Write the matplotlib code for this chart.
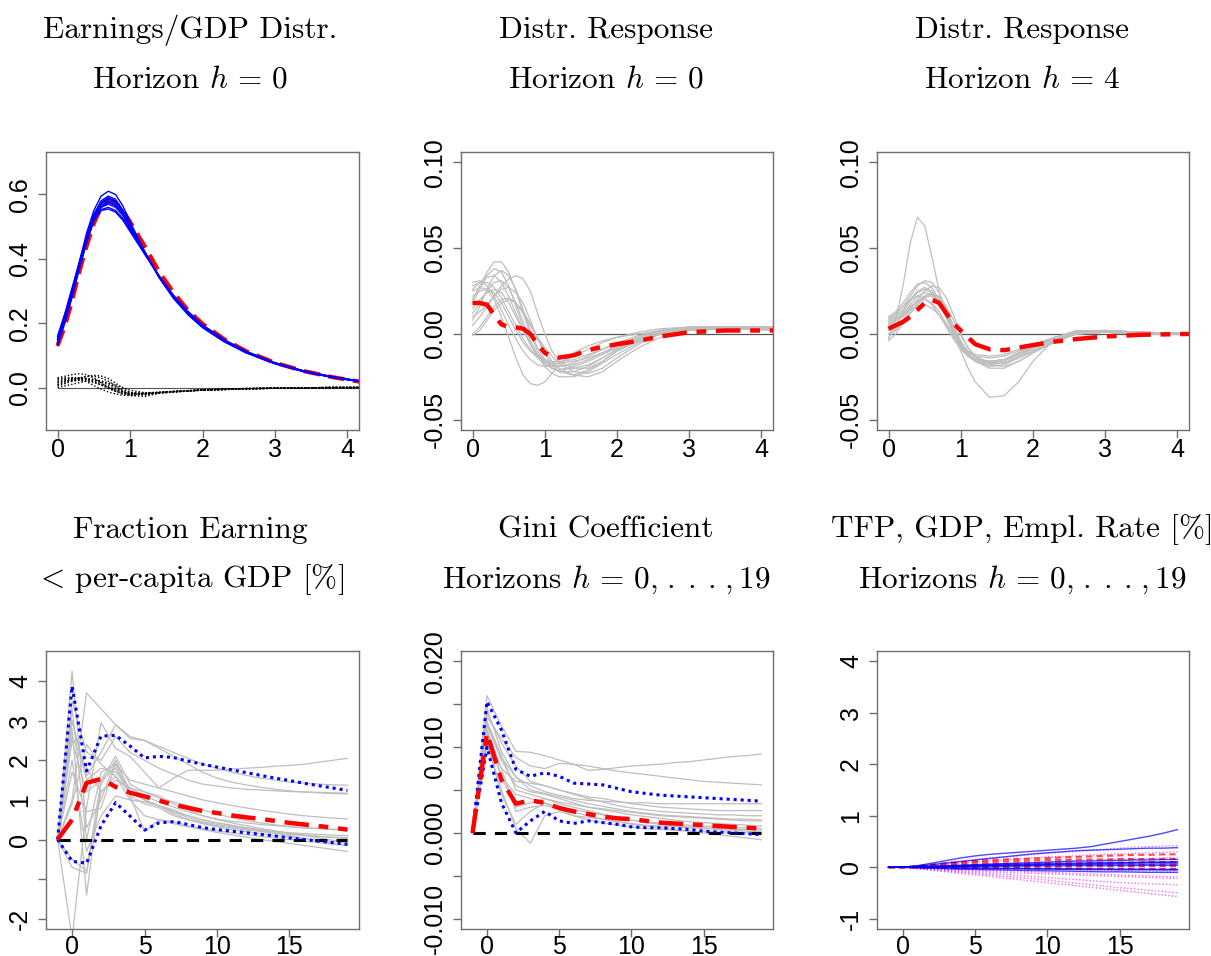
import numpy as np
import matplotlib
matplotlib.use("Agg")
import matplotlib.pyplot as plt

plt.rcParams['font.family'] = 'Liberation Sans'
plt.rcParams['mathtext.fontset'] = 'cm'

# ---- top row: densities on a grid of earnings/GDP ----
xd = [0, 0.1, 0.2, 0.3, 0.4, 0.5, 0.6, 0.7, 0.8, 0.9, 1.0, 1.2, 1.4, 1.6, 1.8, 2.0, 2.3, 2.6, 3.0, 3.4, 3.8, 4.2]

dens = [
    [0.13, 0.20, 0.28, 0.37, 0.45, 0.52, 0.56, 0.575, 0.565, 0.54, 0.50, 0.42, 0.345, 0.282, 0.232, 0.19, 0.146, 0.111, 0.076, 0.051, 0.033, 0.019],
    [0.15, 0.22, 0.30, 0.39, 0.48, 0.55, 0.595, 0.61, 0.60, 0.565, 0.515, 0.425, 0.342, 0.277, 0.226, 0.186, 0.142, 0.108, 0.074, 0.049, 0.031, 0.018],
    [0.14, 0.21, 0.29, 0.375, 0.455, 0.52, 0.55, 0.555, 0.545, 0.52, 0.485, 0.415, 0.348, 0.287, 0.237, 0.195, 0.149, 0.113, 0.077, 0.052, 0.033, 0.019],
    [0.16, 0.23, 0.31, 0.39, 0.47, 0.535, 0.575, 0.59, 0.58, 0.55, 0.505, 0.42, 0.343, 0.279, 0.229, 0.188, 0.144, 0.109, 0.075, 0.05, 0.032, 0.018],
    [0.145, 0.215, 0.295, 0.38, 0.46, 0.53, 0.57, 0.585, 0.575, 0.545, 0.5, 0.42, 0.345, 0.281, 0.231, 0.19, 0.145, 0.11, 0.075, 0.05, 0.032, 0.018],
    [0.135, 0.205, 0.285, 0.37, 0.452, 0.522, 0.56, 0.57, 0.56, 0.535, 0.495, 0.418, 0.346, 0.283, 0.233, 0.192, 0.147, 0.111, 0.076, 0.051, 0.033, 0.019],
    [0.155, 0.225, 0.305, 0.388, 0.468, 0.538, 0.58, 0.595, 0.585, 0.552, 0.505, 0.421, 0.344, 0.279, 0.229, 0.188, 0.143, 0.109, 0.074, 0.049, 0.031, 0.018],
    [0.14, 0.212, 0.292, 0.377, 0.458, 0.527, 0.565, 0.578, 0.568, 0.54, 0.498, 0.419, 0.345, 0.282, 0.232, 0.191, 0.146, 0.11, 0.075, 0.05, 0.032, 0.018],
    [0.15, 0.218, 0.298, 0.384, 0.463, 0.532, 0.572, 0.588, 0.579, 0.548, 0.503, 0.42, 0.344, 0.28, 0.23, 0.189, 0.145, 0.11, 0.075, 0.05, 0.032, 0.018],
    [0.138, 0.208, 0.288, 0.372, 0.452, 0.518, 0.553, 0.56, 0.55, 0.526, 0.49, 0.417, 0.347, 0.285, 0.235, 0.194, 0.148, 0.112, 0.077, 0.051, 0.033, 0.019],
]
dens_mean = [0.13, 0.19, 0.27, 0.36, 0.44, 0.51, 0.56, 0.58, 0.575, 0.55, 0.515, 0.44, 0.36, 0.295, 0.24, 0.198, 0.15, 0.113, 0.077, 0.051, 0.032, 0.017]

dens_dev = [
    [0.03, 0.035, 0.04, 0.043, 0.04, 0.03, 0.015, 0.0, -0.012, -0.02, -0.023, -0.02, -0.016, -0.013, -0.011, -0.008, -0.006, -0.004, -0.002, -0.001, 0.0, 0.0],
    [0.0, 0.005, 0.01, 0.015, 0.02, 0.022, 0.02, 0.015, 0.008, 0.0, -0.008, -0.016, -0.015, -0.012, -0.01, -0.007, -0.005, -0.003, -0.002, -0.001, 0.0, 0.0],
    [0.02, 0.025, 0.028, 0.03, 0.028, 0.022, 0.012, 0.002, -0.008, -0.016, -0.02, -0.019, -0.016, -0.013, -0.011, -0.008, -0.006, -0.004, -0.002, -0.001, 0.0, 0.0],
    [0.01, 0.018, 0.025, 0.03, 0.035, 0.035, 0.03, 0.02, 0.005, -0.012, -0.025, -0.028, -0.018, -0.014, -0.011, -0.008, -0.006, -0.004, -0.002, -0.001, 0.0, 0.0],
    [0.025, 0.028, 0.03, 0.03, 0.026, 0.018, 0.008, -0.003, -0.012, -0.018, -0.021, -0.019, -0.016, -0.013, -0.01, -0.008, -0.006, -0.004, -0.002, -0.001, 0.0, 0.0],
    [0.015, 0.02, 0.022, 0.022, 0.02, 0.015, 0.008, 0.0, -0.008, -0.014, -0.018, -0.017, -0.015, -0.012, -0.01, -0.007, -0.005, -0.003, -0.002, -0.001, 0.0, 0.0],
    [0.005, 0.012, 0.02, 0.028, 0.034, 0.038, 0.036, 0.028, 0.014, -0.002, -0.015, -0.024, -0.018, -0.014, -0.011, -0.008, -0.006, -0.004, -0.002, -0.001, 0.0, 0.0],
    [0.028, 0.03, 0.03, 0.026, 0.018, 0.006, -0.005, -0.014, -0.02, -0.024, -0.025, -0.021, -0.016, -0.013, -0.01, -0.008, -0.006, -0.004, -0.002, -0.001, 0.0, 0.0],
    [0.018, 0.022, 0.026, 0.028, 0.028, 0.025, 0.018, 0.008, -0.003, -0.012, -0.018, -0.02, -0.016, -0.013, -0.01, -0.008, -0.006, -0.004, -0.002, -0.001, 0.0, 0.0],
    [0.008, 0.014, 0.02, 0.024, 0.026, 0.025, 0.02, 0.012, 0.002, -0.008, -0.015, -0.018, -0.015, -0.012, -0.01, -0.007, -0.005, -0.003, -0.002, -0.001, 0.0, 0.0],
]

xr = [0, 0.1, 0.2, 0.3, 0.4, 0.5, 0.6, 0.7, 0.8, 0.9, 1.0, 1.1, 1.2, 1.4, 1.6, 1.8, 2.0, 2.3, 2.6, 3.0, 3.5, 4.2]

resp_h0 = [
    [0.02, 0.028, 0.036, 0.042, 0.042, 0.036, 0.025, 0.012, 0.0, -0.01, -0.016, -0.019, -0.019, -0.017, -0.013, -0.009, -0.005, -0.001, 0.002, 0.003, 0.003, 0.003],
    [0.01, 0.013, 0.017, 0.022, 0.028, 0.032, 0.034, 0.032, 0.025, 0.012, 0.0, -0.01, -0.016, -0.02, -0.02, -0.016, -0.01, -0.004, 0.0, 0.002, 0.003, 0.003],
    [0.025, 0.027, 0.026, 0.02, 0.01, -0.002, -0.014, -0.024, -0.029, -0.03, -0.028, -0.023, -0.018, -0.011, -0.007, -0.004, -0.002, 0.0, 0.002, 0.003, 0.003, 0.002],
    [0.03, 0.031, 0.028, 0.022, 0.014, 0.005, -0.003, -0.01, -0.015, -0.018, -0.019, -0.018, -0.017, -0.013, -0.009, -0.005, -0.002, 0.001, 0.003, 0.004, 0.004, 0.003],
    [0.018, 0.026, 0.034, 0.038, 0.036, 0.028, 0.016, 0.004, -0.006, -0.013, -0.018, -0.02, -0.021, -0.019, -0.016, -0.012, -0.008, -0.003, 0.001, 0.003, 0.004, 0.004],
    [0.005, 0.01, 0.016, 0.022, 0.026, 0.027, 0.024, 0.018, 0.008, -0.003, -0.012, -0.018, -0.022, -0.024, -0.021, -0.016, -0.01, -0.004, 0.0, 0.003, 0.004, 0.004],
    [0.022, 0.025, 0.026, 0.024, 0.018, 0.01, 0.002, -0.005, -0.01, -0.014, -0.016, -0.017, -0.017, -0.016, -0.014, -0.011, -0.008, -0.003, 0.001, 0.003, 0.004, 0.003],
    [0.0, 0.004, 0.01, 0.016, 0.02, 0.021, 0.018, 0.012, 0.005, -0.002, -0.008, -0.013, -0.017, -0.022, -0.023, -0.02, -0.014, -0.006, 0.0, 0.003, 0.004, 0.004],
    [0.026, 0.03, 0.033, 0.034, 0.03, 0.022, 0.012, 0.002, -0.006, -0.012, -0.016, -0.018, -0.019, -0.018, -0.015, -0.011, -0.007, -0.002, 0.002, 0.004, 0.004, 0.003],
    [0.015, 0.02, 0.024, 0.026, 0.024, 0.018, 0.01, 0.002, -0.006, -0.013, -0.019, -0.023, -0.025, -0.025, -0.022, -0.017, -0.012, -0.005, 0.0, 0.003, 0.004, 0.003],
    [0.012, 0.018, 0.025, 0.03, 0.031, 0.027, 0.018, 0.007, -0.004, -0.012, -0.017, -0.02, -0.021, -0.02, -0.018, -0.014, -0.009, -0.004, 0.0, 0.002, 0.003, 0.003],
    [-0.001, 0.002, 0.008, 0.014, 0.018, 0.02, 0.018, 0.013, 0.006, -0.002, -0.01, -0.016, -0.02, -0.024, -0.025, -0.022, -0.016, -0.008, -0.002, 0.002, 0.003, 0.003],
    [0.028, 0.03, 0.03, 0.027, 0.021, 0.013, 0.005, -0.003, -0.009, -0.013, -0.015, -0.016, -0.016, -0.015, -0.012, -0.009, -0.006, -0.002, 0.002, 0.004, 0.004, 0.003],
    [0.008, 0.016, 0.026, 0.034, 0.037, 0.034, 0.026, 0.014, 0.002, -0.008, -0.015, -0.02, -0.022, -0.022, -0.019, -0.014, -0.009, -0.004, 0.0, 0.003, 0.004, 0.004],
]
resp_h0_mean = [0.018, 0.018, 0.017, 0.011, 0.0055, 0.004, 0.0038, 0.003, 0.0, -0.006, -0.011, -0.013, -0.0138, -0.0125, -0.0095, -0.0075, -0.006, -0.004, -0.0015, 0.001, 0.002, 0.002]

resp_h4 = [
    [-0.003, 0.008, 0.028, 0.053, 0.068, 0.063, 0.045, 0.025, 0.01, 0.0, -0.01, -0.02, -0.028, -0.037, -0.036, -0.028, -0.016, -0.003, 0.001, 0.001, 0.0, 0.0],
    [0.008, 0.011, 0.016, 0.022, 0.028, 0.031, 0.03, 0.024, 0.014, 0.003, -0.006, -0.012, -0.016, -0.018, -0.017, -0.013, -0.009, -0.003, 0.001, 0.001, 0.0, 0.0],
    [0.004, 0.008, 0.013, 0.019, 0.024, 0.026, 0.024, 0.018, 0.009, 0.0, -0.008, -0.013, -0.016, -0.017, -0.015, -0.011, -0.007, -0.002, 0.001, 0.002, 0.001, 0.0],
    [0.0, 0.003, 0.008, 0.014, 0.02, 0.025, 0.028, 0.027, 0.021, 0.011, 0.0, -0.008, -0.013, -0.017, -0.017, -0.014, -0.01, -0.004, 0.0, 0.001, 0.001, 0.0],
    [0.006, 0.009, 0.012, 0.016, 0.019, 0.02, 0.018, 0.013, 0.006, -0.001, -0.007, -0.011, -0.013, -0.014, -0.013, -0.01, -0.007, -0.002, 0.001, 0.002, 0.001, 0.0],
    [0.01, 0.013, 0.018, 0.024, 0.029, 0.03, 0.027, 0.02, 0.011, 0.002, -0.006, -0.012, -0.015, -0.017, -0.016, -0.012, -0.008, -0.003, 0.001, 0.002, 0.001, 0.0],
    [-0.002, 0.002, 0.007, 0.012, 0.017, 0.021, 0.023, 0.022, 0.016, 0.008, -0.001, -0.008, -0.013, -0.018, -0.019, -0.016, -0.011, -0.005, 0.0, 0.001, 0.001, 0.0],
    [0.005, 0.008, 0.011, 0.014, 0.016, 0.017, 0.015, 0.011, 0.005, -0.002, -0.007, -0.01, -0.012, -0.013, -0.012, -0.009, -0.006, -0.002, 0.001, 0.001, 0.0, 0.0],
    [0.002, 0.006, 0.011, 0.017, 0.022, 0.024, 0.023, 0.019, 0.012, 0.003, -0.006, -0.012, -0.016, -0.02, -0.02, -0.016, -0.011, -0.004, 0.0, 0.001, 0.001, 0.0],
    [0.007, 0.01, 0.014, 0.02, 0.025, 0.027, 0.025, 0.019, 0.01, 0.001, -0.007, -0.012, -0.015, -0.016, -0.015, -0.011, -0.007, -0.002, 0.002, 0.002, 0.001, 0.0],
    [0.003, 0.006, 0.01, 0.015, 0.019, 0.022, 0.022, 0.018, 0.011, 0.003, -0.005, -0.01, -0.014, -0.016, -0.015, -0.012, -0.008, -0.003, 0.001, 0.001, 0.0, 0.0],
    [0.009, 0.012, 0.016, 0.02, 0.022, 0.021, 0.017, 0.011, 0.004, -0.003, -0.009, -0.013, -0.015, -0.016, -0.015, -0.012, -0.008, -0.003, 0.0, 0.001, 0.0, 0.0],
    [-0.004, 0.0, 0.006, 0.012, 0.018, 0.022, 0.024, 0.021, 0.014, 0.005, -0.004, -0.011, -0.016, -0.019, -0.018, -0.014, -0.01, -0.004, 0.0, 0.001, 0.001, 0.0],
]
resp_h4_mean = [0.003, 0.005, 0.007, 0.01, 0.014, 0.018, 0.02, 0.018, 0.012, 0.006, 0.002, -0.002, -0.006, -0.009, -0.0095, -0.008, -0.0065, -0.0045, -0.003, -0.0015, -0.0005, 0.0]

# ---- bottom row: impulse responses over horizons ----
hz = list(range(-1, 20))

frac = [
    [0, 4.25, 0.3, 1.0, 2.0, 1.2, 1.0, 0.85, 0.7, 0.55, 0.45, 0.38, 0.32, 0.27, 0.23, 0.2, 0.17, 0.15, 0.13, 0.11, 0.1],
    [0, 1.0, 3.7, 3.3, 2.9, 2.6, 2.5, 2.35, 2.2, 2.05, 1.9, 1.8, 1.7, 1.62, 1.55, 1.5, 1.45, 1.42, 1.4, 1.38, 1.37],
    [0, -2.5, 0.8, 2.95, 2.3, 2.1, 1.7, 1.3, 1.55, 1.75, 1.75, 1.75, 1.78, 1.8, 1.82, 1.85, 1.87, 1.9, 1.95, 2.0, 2.05],
    [0, 3.0, 1.6, 2.2, 2.9, 2.55, 2.5, 2.3, 2.1, 1.9, 1.7, 1.55, 1.45, 1.38, 1.32, 1.27, 1.23, 1.2, 1.18, 1.16, 1.15],
    [0, 2.8, -1.4, 1.4, 2.0, 1.2, 1.0, 0.85, 0.7, 0.6, 0.5, 0.42, 0.36, 0.3, 0.25, 0.2, 0.16, 0.12, 0.08, 0.05, 0.02],
    [0, 3.3, 0.0, 1.7, 1.9, 1.5, 1.4, 1.3, 1.2, 1.1, 1.0, 0.93, 0.86, 0.8, 0.74, 0.69, 0.64, 0.6, 0.57, 0.54, 0.52],
    [0, 2.5, 1.2, 1.5, 1.8, 1.1, 0.9, 0.8, 0.6, 0.5, 0.42, 0.35, 0.29, 0.24, 0.2, 0.16, 0.13, 0.1, 0.08, 0.06, 0.05],
    [0, -0.5, -0.8, 1.5, 2.1, 1.4, 1.2, 1.05, 0.95, 0.85, 0.75, 0.65, 0.55, 0.48, 0.42, 0.37, 0.33, 0.3, 0.28, 0.26, 0.25],
    [0, 0.9, 2.4, 1.9, 1.6, 1.2, 1.0, 0.85, 0.65, 0.5, 0.4, 0.32, 0.25, 0.2, 0.15, 0.1, 0.06, 0.02, -0.02, -0.05, -0.08],
    [0, 1.7, 0.7, 0.8, 1.9, 1.1, 0.2, 0.5, 0.45, 0.35, 0.28, 0.22, 0.17, 0.12, 0.08, 0.04, 0.0, -0.04, -0.08, -0.12, -0.15],
    [0, 2.0, -0.3, 0.6, 1.1, 1.0, 0.95, 0.85, 0.75, 0.6, 0.5, 0.42, 0.35, 0.28, 0.22, 0.16, 0.1, 0.03, -0.03, -0.1, -0.15],
    [0, -0.7, -0.85, 1.2, 1.6, 1.0, 0.6, 0.5, 0.4, 0.32, 0.25, 0.18, 0.12, 0.06, 0.0, -0.05, -0.1, -0.15, -0.2, -0.25, -0.3],
    [0, 3.0, 1.5, 1.8, 1.7, 1.3, 1.2, 1.1, 0.9, 0.75, 0.6, 0.5, 0.42, 0.35, 0.28, 0.22, 0.16, 0.1, 0.04, -0.02, -0.07],
    [0, 2.6, 1.8, 1.2, 1.5, 1.3, 1.1, 0.95, 0.82, 0.7, 0.6, 0.52, 0.46, 0.42, 0.38, 0.35, 0.32, 0.29, 0.27, 0.25, 0.23],
    [0, 3.5, 2.2, 2.0, 2.6, 2.2, 2.0, 1.8, 1.65, 1.5, 1.4, 1.35, 1.3, 1.27, 1.25, 1.23, 1.21, 1.2, 1.19, 1.18, 1.17],
]
frac_mean = [0, 0.5, 1.43, 1.53, 1.33, 1.18, 1.09, 0.98, 0.88, 0.8, 0.72, 0.67, 0.61, 0.56, 0.52, 0.47, 0.42, 0.38, 0.34, 0.3, 0.25]
frac_hi = [0, 3.87, 1.73, 2.61, 2.63, 2.36, 2.06, 2.1, 2.07, 1.98, 1.9, 1.83, 1.76, 1.69, 1.62, 1.55, 1.49, 1.42, 1.36, 1.3, 1.24]
frac_lo = [0, -0.55, -0.6, 0.35, 0.93, 0.59, 0.24, 0.42, 0.45, 0.38, 0.3, 0.25, 0.21, 0.17, 0.13, 0.09, 0.04, 0.0, -0.04, -0.08, -0.12]

gini = [
    [0, 0.016, 0.0125, 0.0095, 0.0094, 0.009, 0.0085, 0.008, 0.0073, 0.0074, 0.0076, 0.0078, 0.0079, 0.008, 0.0082, 0.0083, 0.0085, 0.0087, 0.0089, 0.009, 0.0092],
    [0, 0.0135, 0.011, 0.0088, 0.0078, 0.0075, 0.0081, 0.008, 0.0078, 0.0075, 0.0072, 0.007, 0.0068, 0.0066, 0.0064, 0.0062, 0.006, 0.0059, 0.0058, 0.0057, 0.0056],
    [0, 0.0145, 0.0095, 0.0065, 0.0055, 0.0048, 0.0044, 0.004, 0.0038, 0.0037, 0.0036, 0.0035, 0.0035, 0.0034, 0.0034, 0.0034, 0.0034, 0.0034, 0.0034, 0.0034, 0.0034],
    [0, 0.012, 0.0075, 0.006, 0.0058, 0.0055, 0.005, 0.0045, 0.004, 0.0036, 0.0032, 0.0029, 0.0027, 0.0025, 0.0024, 0.0023, 0.0022, 0.0021, 0.0021, 0.002, 0.002],
    [0, 0.0105, 0.005, 0.0005, -0.0012, 0.002, 0.0025, 0.002, 0.0018, 0.0016, 0.0013, 0.0011, 0.0009, 0.0008, 0.0007, 0.0006, 0.0005, 0.0004, 0.0003, 0.0002, 0.0001],
    [0, 0.013, 0.009, 0.005, 0.0045, 0.004, 0.0036, 0.0033, 0.003, 0.0028, 0.0026, 0.0024, 0.0022, 0.002, 0.0019, 0.0018, 0.0017, 0.0016, 0.0015, 0.0014, 0.0014],
    [0, 0.011, 0.0075, 0.0025, 0.003, 0.0032, 0.0028, 0.0024, 0.002, 0.0016, 0.0013, 0.001, 0.0008, 0.0006, 0.0004, 0.0002, 0.0, -0.0002, -0.0004, -0.0006, -0.0008],
    [0, 0.0125, 0.0085, 0.0055, 0.0048, 0.0045, 0.004, 0.0035, 0.003, 0.0027, 0.0024, 0.0021, 0.0019, 0.0017, 0.0015, 0.0013, 0.0012, 0.0011, 0.001, 0.0009, 0.0008],
    [0, 0.0115, 0.0065, 0.003, 0.0035, 0.004, 0.0034, 0.003, 0.0026, 0.0022, 0.0018, 0.0015, 0.0012, 0.001, 0.0008, 0.0007, 0.0006, 0.0005, 0.0004, 0.0004, 0.0003],
    [0, 0.014, 0.0105, 0.0078, 0.006, 0.0055, 0.005, 0.0046, 0.0042, 0.004, 0.0037, 0.0034, 0.0032, 0.003, 0.0029, 0.0028, 0.0027, 0.0026, 0.0026, 0.0026, 0.0026],
    [0, 0.0105, 0.0045, 0.001, 0.0025, 0.0035, 0.0028, 0.002, 0.0015, 0.0012, 0.0009, 0.0007, 0.0005, 0.0004, 0.0003, 0.0002, 0.0002, 0.0001, 0.0001, 0.0, 0.0],
    [0, 0.012, 0.0065, 0.0045, 0.004, 0.0035, 0.003, 0.0027, 0.0024, 0.0021, 0.0018, 0.0015, 0.0013, 0.0011, 0.001, 0.0009, 0.0008, 0.0007, 0.0006, 0.0006, 0.0005],
    [0, 0.0128, 0.0088, 0.0065, 0.005, 0.0046, 0.0042, 0.0038, 0.0034, 0.0031, 0.0028, 0.0025, 0.0023, 0.0021, 0.002, 0.0019, 0.0018, 0.0017, 0.0016, 0.0016, 0.0015],
]
gini_mean = [0, 0.0116, 0.0062, 0.0034, 0.0038, 0.0035, 0.0029, 0.0025, 0.0022, 0.0019, 0.0017, 0.0016, 0.0014, 0.0012, 0.0011, 0.001, 0.0009, 0.0008, 0.0007, 0.0006, 0.0005]
gini_hi = [0, 0.0153, 0.012, 0.0074, 0.0066, 0.007, 0.0066, 0.0058, 0.0057, 0.0056, 0.0052, 0.0048, 0.0046, 0.0044, 0.0043, 0.0042, 0.0041, 0.004, 0.0039, 0.0038, 0.0037]
gini_lo = [0, 0.010, 0.0035, 0.0, 0.0014, 0.0025, 0.0014, 0.0011, 0.0014, 0.0012, 0.001, 0.0007, 0.0006, 0.0006, 0.0005, 0.0004, 0.0002, 0.0001, 0.0, -0.0001, -0.0002]

tfp = [
    [0, 0, 0.03, 0.08, 0.13, 0.18, 0.22, 0.25, 0.27, 0.29, 0.31, 0.33, 0.35, 0.37, 0.4, 0.45, 0.5, 0.55, 0.6, 0.66, 0.73],
    [0, 0, 0.02, 0.05, 0.08, 0.11, 0.14, 0.17, 0.2, 0.23, 0.26, 0.28, 0.3, 0.32, 0.33, 0.34, 0.35, 0.36, 0.37, 0.37, 0.38],
    [0, 0, 0.01, 0.02, 0.03, 0.04, 0.05, 0.06, 0.07, 0.08, 0.09, 0.1, 0.11, 0.12, 0.12, 0.13, 0.13, 0.14, 0.14, 0.15, 0.15],
    [0, 0, 0.005, 0.01, 0.02, 0.03, 0.04, 0.05, 0.055, 0.06, 0.065, 0.07, 0.075, 0.08, 0.085, 0.09, 0.09, 0.095, 0.1, 0.1, 0.1],
    [0, 0, 0.0, 0.005, 0.01, 0.015, 0.02, 0.025, 0.03, 0.035, 0.04, 0.045, 0.05, 0.05, 0.055, 0.055, 0.06, 0.06, 0.06, 0.065, 0.065],
    [0, 0, -0.005, -0.01, -0.015, -0.02, -0.02, -0.025, -0.03, -0.03, -0.035, -0.035, -0.04, -0.04, -0.045, -0.045, -0.05, -0.05, -0.05, -0.055, -0.055],
    [0, 0, -0.01, -0.02, -0.03, -0.04, -0.045, -0.05, -0.055, -0.06, -0.065, -0.07, -0.075, -0.08, -0.085, -0.09, -0.09, -0.095, -0.1, -0.1, -0.1],
    [0, 0, 0.01, 0.015, 0.02, 0.025, 0.03, 0.035, 0.04, 0.045, 0.05, 0.055, 0.06, 0.065, 0.07, 0.075, 0.08, 0.085, 0.09, 0.095, 0.1],
    [0, 0, 0.005, 0.01, 0.01, 0.015, 0.015, 0.02, 0.02, 0.02, 0.025, 0.025, 0.025, 0.03, 0.03, 0.03, 0.03, 0.03, 0.035, 0.035, 0.035],
    [0, 0, -0.005, -0.005, -0.01, -0.01, -0.015, -0.015, -0.02, -0.02, -0.025, -0.025, -0.03, -0.03, -0.03, -0.035, -0.035, -0.035, -0.04, -0.04, -0.04],
]
gdp = [
    [0, 0, 0.02, 0.05, 0.08, 0.1, 0.12, 0.14, 0.15, 0.16, 0.17, 0.18, 0.19, 0.2, 0.21, 0.22, 0.23, 0.24, 0.24, 0.25, 0.25],
    [0, 0, 0.01, 0.03, 0.05, 0.07, 0.09, 0.1, 0.11, 0.12, 0.13, 0.14, 0.14, 0.15, 0.15, 0.15, 0.16, 0.16, 0.16, 0.16, 0.16],
    [0, 0, 0.01, 0.02, 0.03, 0.04, 0.05, 0.06, 0.06, 0.07, 0.07, 0.08, 0.08, 0.08, 0.09, 0.09, 0.09, 0.09, 0.1, 0.1, 0.1],
    [0, 0, 0.005, 0.01, 0.015, 0.02, 0.025, 0.03, 0.03, 0.035, 0.035, 0.04, 0.04, 0.04, 0.045, 0.045, 0.045, 0.05, 0.05, 0.05, 0.05],
    [0, 0, 0.0, 0.0, 0.005, 0.005, 0.01, 0.01, 0.01, 0.01, 0.015, 0.015, 0.015, 0.015, 0.02, 0.02, 0.02, 0.02, 0.02, 0.02, 0.02],
    [0, 0, -0.005, -0.01, -0.01, -0.015, -0.015, -0.02, -0.02, -0.02, -0.025, -0.025, -0.025, -0.03, -0.03, -0.03, -0.03, -0.03, -0.035, -0.035, -0.035],
]
empl = [
    [0, 0, 0.03, 0.06, 0.09, 0.12, 0.15, 0.18, 0.2, 0.22, 0.25, 0.27, 0.29, 0.31, 0.33, 0.35, 0.37, 0.39, 0.4, 0.41, 0.42],
    [0, 0, 0.02, 0.04, 0.06, 0.08, 0.1, 0.12, 0.14, 0.16, 0.18, 0.2, 0.21, 0.22, 0.24, 0.25, 0.26, 0.27, 0.28, 0.29, 0.3],
    [0, 0, 0.01, 0.02, 0.03, 0.04, 0.05, 0.06, 0.07, 0.08, 0.09, 0.1, 0.11, 0.12, 0.13, 0.14, 0.15, 0.16, 0.17, 0.18, 0.19],
    [0, 0, 0.0, -0.005, -0.01, -0.015, -0.02, -0.025, -0.03, -0.035, -0.04, -0.045, -0.05, -0.055, -0.06, -0.065, -0.07, -0.075, -0.08, -0.085, -0.09],
    [0, 0, -0.01, -0.02, -0.03, -0.04, -0.05, -0.06, -0.07, -0.08, -0.09, -0.1, -0.11, -0.12, -0.13, -0.14, -0.15, -0.16, -0.17, -0.18, -0.19],
    [0, 0, -0.015, -0.03, -0.045, -0.06, -0.075, -0.09, -0.1, -0.11, -0.12, -0.13, -0.14, -0.15, -0.16, -0.17, -0.18, -0.19, -0.2, -0.21, -0.22],
    [0, 0, -0.02, -0.04, -0.06, -0.08, -0.1, -0.12, -0.14, -0.16, -0.18, -0.2, -0.22, -0.24, -0.26, -0.28, -0.3, -0.31, -0.32, -0.33, -0.34],
    [0, 0, -0.025, -0.05, -0.075, -0.1, -0.125, -0.15, -0.175, -0.2, -0.225, -0.25, -0.28, -0.31, -0.34, -0.37, -0.4, -0.42, -0.45, -0.47, -0.5],
    [0, 0, -0.03, -0.06, -0.09, -0.12, -0.15, -0.18, -0.21, -0.24, -0.27, -0.3, -0.33, -0.36, -0.39, -0.42, -0.45, -0.48, -0.51, -0.54, -0.57],
]

horizons = r"Horizons $h\,=\,0,\hspace{0.12}.\hspace{0.22}.\hspace{0.22}.\hspace{0.12},19$"
titles = [
    ("Earnings/GDP Distr.", r"Horizon $h\,=\,0$"),
    ("Distr. Response", r"Horizon $h\,=\,0$"),
    ("Distr. Response", r"Horizon $h\,=\,4$"),
    ("Fraction Earning", r"$<\,$per-capita GDP [%]"),
    ("Gini Coefficient", horizons),
    ("TFP, GDP, Empl. Rate [%]", horizons),
]

W, H = 1211, 956
fig = plt.figure(figsize=(W / 100, H / 100), dpi=100)

GREY = '#BEBEBE'
FRAME = '#6E6E6E'
DASHDOT = (5.5, 2.2, 2.2, 2.2)


def r_axes(px, xlim, ylim, xticks, yticks, ylabels, xpad=0):
    x0, y0, x1, y1 = px
    ax = fig.add_axes([x0 / W, 1 - y1 / H, (x1 - x0) / W, (y1 - y0) / H])
    ax.set_xlim(*xlim)
    ax.set_ylim(*ylim)
    for sp in ax.spines.values():
        sp.set_color(FRAME)
        sp.set_linewidth(1.0)
    ax.set_xticks(xticks)
    ax.set_xticklabels([str(t) for t in xticks])
    ax.set_yticks(yticks)
    ax.set_yticklabels(ylabels, rotation=90, va='center')
    ax.tick_params(direction='out', length=6, width=1, color=FRAME,
                   labelsize=18)
    ax.tick_params(axis='x', pad=xpad)
    ax.tick_params(axis='y', pad=4)
    return ax


# Earnings/GDP distribution, h = 0
ax = r_axes((46, 152, 359, 430), (-0.16, 4.16), (-0.132, 0.732),
            [0, 1, 2, 3, 4], [0.0, 0.2, 0.4, 0.6], ['0.0', '0.2', '0.4', '0.6'])
ax.plot(xd, [0] * len(xd), color='#555555', lw=0.8)
for d in dens_dev:
    ax.plot(xd, d, color='black', lw=1.0, ls=(0, (1, 1.5)))
ax.plot(xd, dens_mean, color='red', lw=3, ls=(0, (4, 2)))
for d in dens:
    ax.plot(xd, d, color='blue', lw=1.0)

# distributional responses
resp_ticks = [-0.05, 0.0, 0.05, 0.10]
resp_labels = ['-0.05', '0.00', '0.05', '0.10']
for px, curves, mean in [((461, 152, 773, 430), resp_h0, resp_h0_mean),
                         ((877, 152, 1189, 430), resp_h4, resp_h4_mean)]:
    ax = r_axes(px, (-0.16, 4.16), (-0.056, 0.106), [0, 1, 2, 3, 4],
                resp_ticks, resp_labels)
    ax.plot(xr, [0] * len(xr), color='#555555', lw=0.9)
    for c in curves:
        ax.plot(xr, c, color=GREY, lw=0.9)
    ax.plot(xr, mean, color='red', lw=3.2, ls=(0, DASHDOT))

# fraction earning below per-capita GDP
ax = r_axes((46, 651, 359, 929), (-1.8, 19.8), (-2.26, 4.76), [0, 5, 10, 15],
            [-2, -1, 0, 1, 2, 3, 4], ['-2', '', '0', '1', '2', '3', '4'], xpad=-2)
for c in frac:
    ax.plot(hz, c, color=GREY, lw=0.9)
ax.plot(hz, [0] * len(hz), color='black', lw=2.2, ls=(0, (4, 3)))
ax.plot(hz, frac_hi, color='blue', lw=2.2, ls=(0, (1, 1.3)))
ax.plot(hz, frac_lo, color='blue', lw=2.2, ls=(0, (1, 1.3)))
ax.plot(hz, frac_mean, color='red', lw=3.2, ls=(0, DASHDOT))

# Gini coefficient
ax = r_axes((461, 651, 773, 929), (-1.8, 19.8), (-0.0112, 0.0212), [0, 5, 10, 15],
            [-0.010, -0.005, 0.0, 0.005, 0.010, 0.015, 0.020],
            ['-0.010', '', '0.000', '', '0.010', '', '0.020'], xpad=-2)
for c in gini:
    ax.plot(hz, c, color=GREY, lw=0.9)
ax.plot(hz, [0] * len(hz), color='black', lw=2.2, ls=(0, (4, 3)))
ax.plot(hz, gini_hi, color='blue', lw=2.2, ls=(0, (1, 1.3)))
ax.plot(hz, gini_lo, color='blue', lw=2.2, ls=(0, (1, 1.3)))
ax.plot(hz, gini_mean, color='red', lw=3.2, ls=(0, DASHDOT))

# TFP, GDP and employment rate
ax = r_axes((877, 651, 1189, 929), (-1.8, 19.8), (-1.2, 4.2), [0, 5, 10, 15],
            [-1, 0, 1, 2, 3, 4], ['-1', '0', '1', '2', '3', '4'], xpad=-2)
for c in empl:
    ax.plot(hz, c, color='magenta', lw=1.0, ls=(0, (1, 1.5)), alpha=0.6)
for c in gdp:
    ax.plot(hz, c, color='red', lw=1.5, ls=(0, (3, 2)), alpha=0.7)
for c in tfp:
    ax.plot(hz, c, color='blue', lw=1.0, alpha=0.7)

# panel titles
cx = [190, 606, 1022]
for i, (l1, l2) in enumerate(titles):
    x = cx[i % 3] / W
    yb = 0 if i < 3 else 500
    fig.text(x, 1 - (yb + 30) / H, l1, ha='center', va='center',
             fontsize=22.5, family='cmr10')
    fig.text(x, 1 - (yb + 80) / H, l2, ha='center', va='center',
             fontsize=22.5, family='cmr10')

fig.savefig('out.png', dpi=100)
